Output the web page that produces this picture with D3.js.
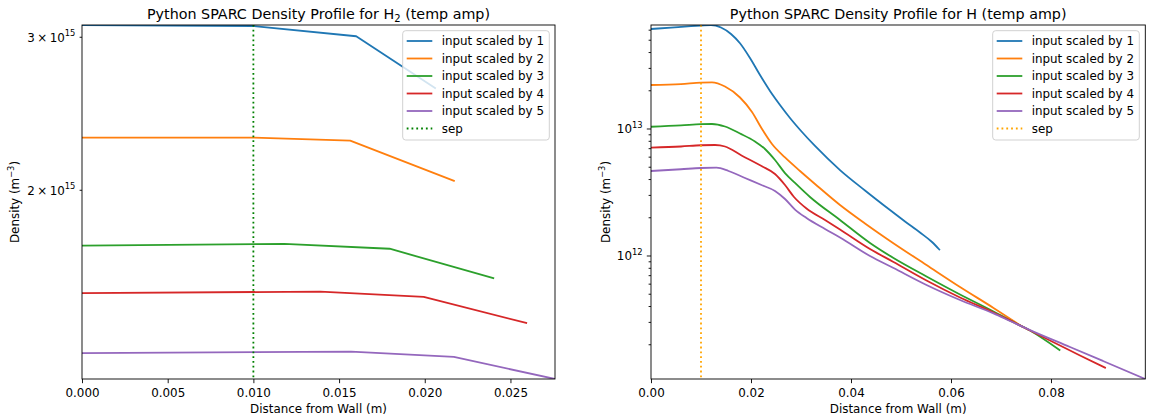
<!DOCTYPE html>
<html>
<head>
<meta charset="utf-8">
<script src="https://cdn.jsdelivr.net/npm/d3@7"></script>
<style>
  html, body { margin: 0; padding: 0; background: #fff; }
  svg { display: block; font-family: "DejaVu Sans", sans-serif; }
</style>
</head>
<body>
<script>
// Series shared by both panels
const seriesLabels = ["input scaled by 1", "input scaled by 2", "input scaled by 3", "input scaled by 4", "input scaled by 5"];
const seriesColors = ["#1f77b4", "#ff7f0e", "#2ca02c", "#d62728", "#9467bd"];
const sepPosition = 0.010;

// H2 density profile (m, m^-3)
const h2Distance = [
  [0, 0.0100, 0.0160, 0.0206],
  [0, 0.0100, 0.01565, 0.0217],
  [0, 0.0118, 0.01795, 0.0240],
  [0, 0.0139, 0.01994, 0.02592],
  [0, 0.0157, 0.0217, 0.0276]
];
const h2Density = [
  [3.099e15, 3.091e15, 3.008e15, 2.623e15],
  [2.299e15, 2.300e15, 2.281e15, 2.051e15],
  [1.727e15, 1.735e15, 1.713e15, 1.585e15],
  [1.523e15, 1.529e15, 1.508e15, 1.407e15],
  [1.299e15, 1.304e15, 1.286e15, 1.213e15]
];

// H density profile (m, m^-3)
const hDistance = [
  [0, 0.004, 0.008, 0.010, 0.012, 0.014, 0.016, 0.0178, 0.0198, 0.0218, 0.0238, 0.0258, 0.0278, 0.0302, 0.0328, 0.0378, 0.0428, 0.0478, 0.0508, 0.0538, 0.0562, 0.05766],
  [0, 0.006, 0.010, 0.0122, 0.0148, 0.0178, 0.0202, 0.0222, 0.0242, 0.0268, 0.0298, 0.0328, 0.0378, 0.0428, 0.0484, 0.0551, 0.0618, 0.0685, 0.0742],
  [0, 0.006, 0.010, 0.0122, 0.0148, 0.0178, 0.0208, 0.0228, 0.0248, 0.0268, 0.0288, 0.0318, 0.0378, 0.0438, 0.0485, 0.0551, 0.0618, 0.0685, 0.0718, 0.0758, 0.0817],
  [0, 0.006, 0.010, 0.0128, 0.0148, 0.0181, 0.0221, 0.0248, 0.0268, 0.0286, 0.0311, 0.0348, 0.0378, 0.0438, 0.0485, 0.0551, 0.0618, 0.0685, 0.0718, 0.0758, 0.0816, 0.0858, 0.0908],
  [0, 0.006, 0.010, 0.0131, 0.0155, 0.0188, 0.0221, 0.0248, 0.0268, 0.0288, 0.0311, 0.0348, 0.0378, 0.0438, 0.0485, 0.0551, 0.0618, 0.0685, 0.0718, 0.0758, 0.0838, 0.0904, 0.09886]
];
const hDensity = [
  [6.13e13, 6.29e13, 6.46e13, 6.53e13, 6.59e13, 6.30e13, 5.60e13, 4.73e13, 3.62e13, 2.66e13, 1.992e13, 1.545e13, 1.221e13, 9.47e12, 7.35e12, 4.75e12, 3.28e12, 2.30e12, 1.869e12, 1.531e12, 1.289e12, 1.125e12],
  [2.22e13, 2.26e13, 2.32e13, 2.33e13, 2.16e13, 1.770e13, 1.361e13, 1.000e13, 7.62e12, 5.97e12, 4.67e12, 3.69e12, 2.52e12, 1.803e12, 1.266e12, 8.49e11, 5.70e11, 3.90e11, 2.786e11],
  [1.042e13, 1.066e13, 1.091e13, 1.095e13, 1.046e13, 9.22e12, 7.97e12, 6.96e12, 5.70e12, 4.50e12, 3.76e12, 2.915e12, 1.921e12, 1.266e12, 9.64e11, 6.90e11, 4.98e11, 3.66e11, 3.11e11, 2.59e11, 1.819e11],
  [7.13e12, 7.28e12, 7.45e12, 7.48e12, 7.28e12, 6.19e12, 5.11e12, 4.42e12, 3.62e12, 2.915e12, 2.366e12, 1.921e12, 1.617e12, 1.135e12, 8.97e11, 6.41e11, 4.71e11, 3.59e11, 3.11e11, 2.59e11, 1.992e11, 1.647e11, 1.320e11],
  [4.67e12, 4.82e12, 4.93e12, 4.96e12, 4.67e12, 4.11e12, 3.62e12, 3.25e12, 2.81e12, 2.32e12, 1.992e12, 1.632e12, 1.399e12, 1.000e12, 8.04e11, 5.91e11, 4.50e11, 3.53e11, 3.08e11, 2.61e11, 1.921e11, 1.490e11, 1.075e11]
];

const h2XTicks = [0, 0.005, 0.010, 0.015, 0.020, 0.025];
const hXTicks = [0, 0.02, 0.04, 0.06, 0.08];

const W = 1151, H = 419;
const FS = 11.9, TITLE_FS = 14.3;
const MAJOR = 4.2, MINOR = 2.4, PAD = 4.2;

const svg = d3.select("body").append("svg")
  .attr("width", W).attr("height", H)
  .attr("viewBox", `0 0 ${W} ${H}`);

// write "a × 10^b" style text with a raised exponent
function sciText(sel, mant, exp) {
  sel.text(null);
  sel.append("tspan").text(mant === null ? "10" : `${mant}\u2009×\u200910`);
  sel.append("tspan").attr("dy", -5.5).attr("font-size", FS * 0.7).text(exp);
}

function drawPanel(opts) {
  const { x0, x1, y0, y1, dist, dens, xTicks, xFmt, sepColor, titleMain, titleSub, titleTail, legendX, curve, clipId } = opts;
  const g = svg.append("g");

  const allX = dist.flat(), allY = dens.flat();
  const x = d3.scaleLinear().domain([0, d3.max(allX)]).range([x0, x1]);
  const y = d3.scaleLog().domain([d3.min(allY), d3.max(allY)]).range([y1, y0]);

  g.append("clipPath").attr("id", clipId)
    .append("rect").attr("x", x0).attr("y", y0).attr("width", x1 - x0).attr("height", y1 - y0);

  const plot = g.append("g").attr("clip-path", `url(#${clipId})`);
  const line = d3.line().x(d => x(d[0])).y(d => y(d[1])).curve(curve);

  dist.forEach((xs, i) => {
    const pts = xs.map((v, j) => [v, dens[i][j]]);
    plot.append("path").datum(pts)
      .attr("d", line)
      .attr("fill", "none")
      .attr("stroke", seriesColors[i])
      .attr("stroke-width", 1.8)
      .attr("stroke-linejoin", "round")
      .attr("stroke-linecap", "square");
  });

  // separatrix marker
  plot.append("line")
    .attr("x1", x(sepPosition)).attr("x2", x(sepPosition))
    .attr("y1", y0).attr("y2", y1)
    .attr("stroke", sepColor).attr("stroke-width", 1.8)
    .attr("stroke-dasharray", "1.8,3");

  // spines
  g.append("rect").attr("x", x0).attr("y", y0).attr("width", x1 - x0).attr("height", y1 - y0)
    .attr("fill", "none").attr("stroke", "#000").attr("stroke-width", 0.9);

  // x axis
  const xAxis = g.append("g").attr("transform", `translate(0,${y1})`)
    .call(d3.axisBottom(x).tickValues(xTicks).tickFormat(d3.format(xFmt))
      .tickSize(MAJOR).tickPadding(PAD + 1.5).tickSizeOuter(0));
  xAxis.select(".domain").remove();
  xAxis.selectAll("line").attr("stroke", "#000").attr("stroke-width", 0.9);
  xAxis.selectAll("text").attr("font-size", FS).attr("font-family", "DejaVu Sans").attr("fill", "#000");

  // y axis: decades as major ticks, 2..9 multiples as minor ticks
  const [dmin, dmax] = y.domain();
  const major = [], minor = [];
  for (let e = Math.floor(Math.log10(dmin)); e <= Math.ceil(Math.log10(dmax)); e++) {
    for (let k = 1; k <= 9; k++) {
      const v = k * Math.pow(10, e);
      if (v < dmin * 0.9999 || v > dmax * 1.0001) continue;
      (k === 1 ? major : minor).push({ v, k, e });
    }
  }
  const showMinorLabels = major.length === 0;
  const yAxis = g.append("g");
  major.concat(minor).forEach(t => {
    const len = t.k === 1 ? MAJOR : MINOR;
    const py = y(t.v);
    yAxis.append("line").attr("x1", x0 - len).attr("x2", x0).attr("y1", py).attr("y2", py)
      .attr("stroke", "#000").attr("stroke-width", 0.9);
    if (t.k === 1 || showMinorLabels) {
      const txt = yAxis.append("text")
        .attr("x", x0 - len - PAD).attr("y", py + 4.5)
        .attr("text-anchor", "end").attr("font-size", FS).attr("fill", "#000");
      sciText(txt, t.k === 1 ? null : t.k, t.e);
    }
  });

  // axis labels
  g.append("text").attr("x", (x0 + x1) / 2).attr("y", 413)
    .attr("text-anchor", "middle").attr("font-size", FS).attr("fill", "#000")
    .text("Distance from Wall (m)");
  const yl = g.append("text")
    .attr("transform", `translate(${opts.ylabelX},${(y0 + y1) / 2}) rotate(-90)`)
    .attr("text-anchor", "middle").attr("font-size", FS).attr("fill", "#000");
  yl.append("tspan").text("Density (m");
  yl.append("tspan").attr("dy", -5).attr("font-size", FS * 0.7).text("\u22123");
  yl.append("tspan").attr("dy", 5).text(")");

  // title
  const tt = g.append("text").attr("x", (x0 + x1) / 2).attr("y", 18.5)
    .attr("text-anchor", "middle").attr("font-size", TITLE_FS).attr("fill", "#000");
  tt.append("tspan").text(titleMain);
  if (titleSub) {
    tt.append("tspan").attr("dy", 3).attr("font-size", TITLE_FS * 0.7).text(titleSub);
    tt.append("tspan").attr("dy", -3).text(titleTail);
  } else {
    tt.append("tspan").text(titleTail);
  }

  // legend
  const lx = legendX, ly = 30.7, lw = 146.6, lh = 109.3;
  const lg = g.append("g");
  lg.append("rect").attr("x", lx).attr("y", ly).attr("width", lw).attr("height", lh)
    .attr("rx", 3).attr("fill", "#fff").attr("fill-opacity", 0.8)
    .attr("stroke", "#cccccc").attr("stroke-width", 0.9);
  const entries = seriesLabels.map((l, i) => ({ label: l, color: seriesColors[i], dash: null }))
    .concat([{ label: "sep", color: sepColor, dash: "1.8,3" }]);
  entries.forEach((en, i) => {
    const cy = 41 + i * 17.5;
    lg.append("line").attr("x1", lx + 4).attr("x2", lx + 29.6).attr("y1", cy).attr("y2", cy)
      .attr("stroke", en.color).attr("stroke-width", 1.8)
      .attr("stroke-dasharray", en.dash);
    lg.append("text").attr("x", lx + 39).attr("y", cy + 4.3)
      .attr("font-size", FS).attr("fill", "#000").text(en.label);
  });
}

drawPanel({
  x0: 82, x1: 555, y0: 25, y1: 379,
  dist: h2Distance, dens: h2Density,
  xTicks: h2XTicks, xFmt: ".3f",
  sepColor: "#008000",
  titleMain: "Python SPARC Density Profile for H", titleSub: "2", titleTail: " (temp amp)",
  legendX: 402.7, ylabelX: 19, curve: d3.curveLinear, clipId: "clip-h2"
});

drawPanel({
  x0: 651, x1: 1145.3, y0: 25, y1: 379,
  dist: hDistance, dens: hDensity,
  xTicks: hXTicks, xFmt: ".2f",
  sepColor: "#ffa500",
  titleMain: "Python SPARC Density Profile for H", titleSub: null, titleTail: " (temp amp)",
  legendX: 992.7, ylabelX: 610, curve: d3.curveMonotoneX, clipId: "clip-h"
});
</script>
</body>
</html>
